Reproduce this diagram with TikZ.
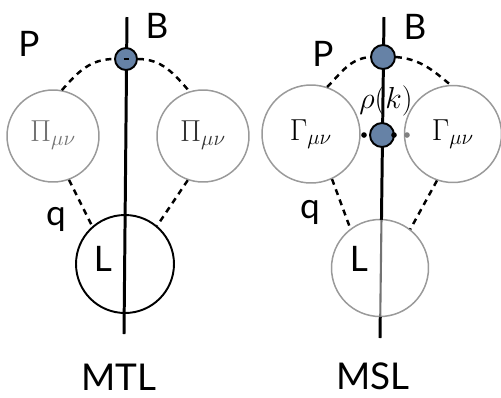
\documentclass[tikz,border=0pt]{standalone}
\usepackage{fontspec}
\setsansfont{Lato}
\usetikzlibrary{calc}
\definecolor{blobblue}{HTML}{6682A6}
\definecolor{ringgray}{HTML}{9A9A9A}
\begin{document}
\begin{tikzpicture}[x=0.02cm,y=-0.02cm,
  ring/.style={circle,draw=ringgray,line width=0.85pt,inner sep=0pt},
  loopring/.style={circle,draw=black,line width=1.1pt,inner sep=0pt},
  blob/.style={circle,draw=black,fill=blobblue,line width=1.1pt,inner sep=0pt,minimum size=0.44cm},
  worldline/.style={line width=1.7pt},
  prop/.style={line width=1.4pt,dash pattern=on 3.4pt off 2.8pt},
  lbl/.style={font=\sffamily\fontsize{20}{24}\selectfont},
  titlelbl/.style={font=\sffamily\fontsize{21}{25}\selectfont},
  mathlbl/.style={font=\fontsize{17}{20}\selectfont},
  tinydot/.style={circle,inner sep=0pt,minimum size=3.2pt}]
\useasboundingbox (0,0) rectangle (501,397);

% ---------------- left diagram (MTL) ----------------
\node[ring,minimum size=1.84cm] (pil) at (53,136) {};
\node[ring,minimum size=1.84cm] (pir) at (203,136) {};
\node[loopring,minimum size=1.96cm] (lc) at (125,264) {};
\node[mathlbl,text=black!55] (pil-t) at (53,135) {$\Pi_{\mu\nu}$};
\node[mathlbl,text=black!80] (pir-t) at (203,135) {$\Pi_{\mu\nu}$};
\coordinate (t1) at (127,17);
\coordinate (u1) at (124,334);
\draw[worldline] (t1) -- (u1);
\node[blob] (b1) at (126,59) {};
\draw[prop] (pil.79) to[out=49,in=180] (b1.west);
\draw[prop] (b1.east) to[out=0,in=131] (pir.107);
\draw[line width=1.4pt] ($(b1.center)+(-2.5,0)$) -- ($(b1.center)+(2.5,0)$);
\draw[prop] (pil.-70) -- (lc.131);
\draw[prop] (pir.-109) -- (lc.50);
\node[lbl] (p1) at (29,44) {P};
\node[lbl] (bl1) at (157,26) {B};
\node[lbl] (q1) at (56,219) {q};
\node[lbl] (l1) at (103,259) {L};
\node[titlelbl] (mtl) at (119,377) {MTL};

% ---------------- right diagram (MSL) ----------------
\node[ring,minimum size=1.96cm] (gl) at (311,134) {};
\node[ring,minimum size=1.94cm] (gr) at (453,134) {};
\node[ring,minimum size=1.94cm] (lc2) at (380,268) {};
\node[mathlbl] (gl-t) at (311,134) {$\Gamma_{\mu\nu}$};
\node[mathlbl] (gr-t) at (453,134) {$\Gamma_{\mu\nu}$};
\coordinate (t2) at (384,17);
\coordinate (u2) at (380,338);
\coordinate (in2) at ($(t2)!0.632!(u2)$);
\coordinate (out2) at ($(t2)!0.935!(u2)$);
\draw[worldline] (t2) -- (in2);
\draw[worldline] (out2) -- (u2);
\draw[line width=1.2pt,draw=black!55] (in2) -- (out2);
\node[blob,minimum size=0.48cm] (b2) at (383,57) {};
\node[blob,minimum size=0.48cm] (b3) at (382,135) {};
\draw[prop] (gl.71) to[out=45,in=185] (b2.west);
\draw[prop] (b2.east) to[out=-5,in=140] (gr.93);
\draw[prop] (gl.-65) -- (lc2.127);
\draw[prop] (gr.-109) -- (lc2.52);
\node[tinydot,fill=black] (d1) at (364,135) {};
\node[tinydot,fill=black] (d2) at (394,135) {};
\node[tinydot,fill=black!50] (d3) at (407,135) {};
\node[font=\fontsize{16}{19}\selectfont] (rho) at (386,101) {$\rho(k)$};
\node[lbl] (p2) at (323,54) {P};
\node[lbl] (bl2) at (415,27) {B};
\node[lbl] (q2) at (310,212) {q};
\node[lbl] (l2) at (359,259) {L};
\node[titlelbl] (msl) at (373,376) {MSL};
\end{tikzpicture}
\end{document}
